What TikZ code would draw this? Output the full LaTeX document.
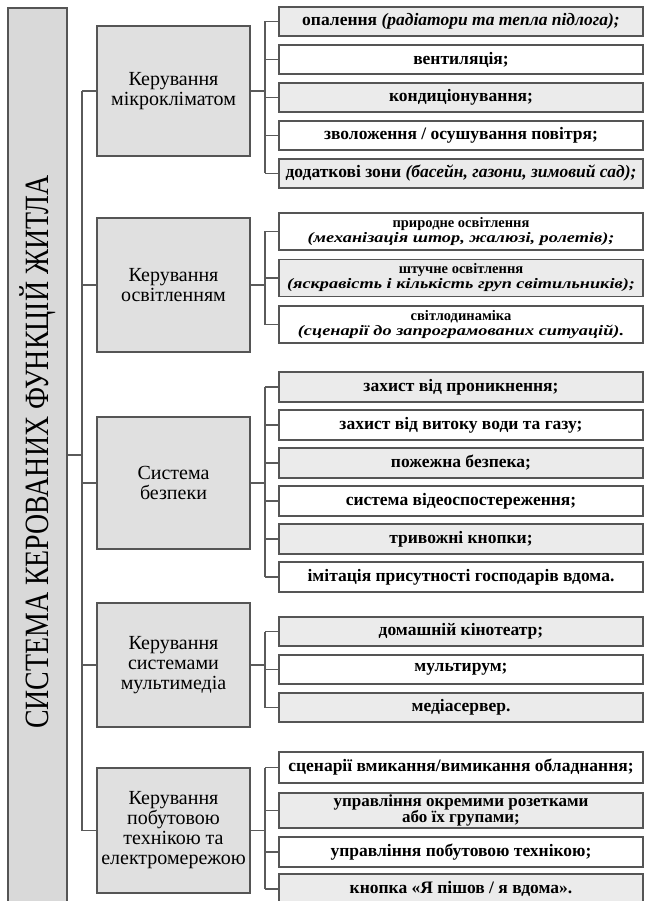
\documentclass[tikz,border=0pt]{standalone}
\usepackage{fontspec}
\setmainfont{Liberation Serif}
\definecolor{bordc}{HTML}{555555}
\definecolor{linec}{HTML}{5A5A5A}
\definecolor{catc}{HTML}{E0E0E0}
\definecolor{mainc}{HTML}{D9D9D9}
\definecolor{itg}{HTML}{EBEBEB}
\newcommand{\itw}[1]{\scalebox{1.26}[1]{\itshape #1}}
\tikzset{
  bx/.style={draw=bordc, line width=1.4pt},
  cat/.style={bx, fill=catc, minimum width=153pt, align=center, inner sep=0pt,
    font=\fontsize{20}{20}\selectfont},
  itm/.style={bx, minimum width=364pt, align=center, inner sep=0pt,
    font=\bfseries\fontsize{17.5}{17}\selectfont},
  itm2/.style={itm, font=\bfseries\fontsize{14.5}{15}\selectfont},
  gr/.style={fill=itg},
  wh/.style={fill=white},
  ln/.style={draw=linec, line width=1.3pt}
}
\begin{document}
\begin{tikzpicture}[x=1pt,y=-1pt]
\clip (0,0) rectangle (645,901);
\fill[white] (0,0) rectangle (645,901);
% main box
\node[bx, fill=mainc, minimum width=59pt, minimum height=900pt, inner sep=0pt] (main) at (37.5,458) {};
\node[rotate=90, inner sep=0pt] (maintxt) at (37.5,452) {\scalebox{0.82}[1]{\fontsize{34}{34}\selectfont СИСТЕМА КЕРОВАНИХ ФУНКЦІЙ ЖИТЛА}};
% categories
\node[cat, minimum height=130pt] (c1) at (173.5,91) {Керування\\мікрокліматом};
\node[cat, minimum height=134pt] (c2) at (173.5,285) {Керування\\освітленням};
\node[cat, minimum height=132pt] (c3) at (173.5,483) {Система\\безпеки};
\node[cat, minimum height=124pt] (c4) at (173.5,665) {Керування\\системами\\мультимедіа};
\node[cat, minimum height=125pt] (c5) at (173.5,830.5) {Керування\\побутовою\\технікою та\\електромережою};
% group 1
\node[itm, gr, minimum height=29pt] (a1) at (461,21.5) {опалення \textit{(радіатори та тепла підлога);}};
\node[itm, wh, minimum height=29pt] (a2) at (461,59.5) {вентиляція;};
\node[itm, gr, minimum height=29pt] (a3) at (461,97.5) {кондиціонування;};
\node[itm, wh, minimum height=29pt] (a4) at (461,135.5) {зволоження / осушування повітря;};
\node[itm, gr, minimum height=29pt] (a5) at (461,173.5) {додаткові зони \textit{(басейн, газони, зимовий сад);}};
% group 2
\node[itm2, wh, minimum height=37pt] (b1) at (461,231.5) {природне освітлення\\\itw{(механізація штор, жалюзі, ролетів);}};
\node[itm2, gr, minimum height=37pt] (b2) at (461,278) {штучне освітлення\\\itw{(яскравість і кількість груп світильників);}};
\node[itm2, wh, minimum height=37pt] (b3) at (461,324.5) {світлодинаміка\\\itw{(сценарії до запрограмованих ситуацій).}};
% group 3
\node[itm, gr, minimum height=30pt] (s1) at (461,387) {захист від проникнення;};
\node[itm, wh, minimum height=30pt] (s2) at (461,425) {захист від витоку води та газу;};
\node[itm, gr, minimum height=30pt] (s3) at (461,463) {пожежна безпека;};
\node[itm, wh, minimum height=30pt] (s4) at (461,501) {система відеоспостереження;};
\node[itm, gr, minimum height=30pt] (s5) at (461,539) {тривожні кнопки;};
\node[itm, wh, minimum height=30pt] (s6) at (461,577) {імітація присутності господарів вдома.};
% group 4
\node[itm, gr, minimum height=29pt] (m1) at (461,631.5) {домашній кінотеатр;};
\node[itm, wh, minimum height=29pt] (m2) at (461,669.5) {мультирум;};
\node[itm, gr, minimum height=29pt] (m3) at (461,707.5) {медіасервер.};
% group 5
\node[itm, wh, minimum height=31pt] (e1) at (461,767.5) {сценарії вмикання/вимикання обладнання;};
\node[itm, gr, minimum height=35pt, font=\bfseries\fontsize{17}{15.5}\selectfont] (e2) at (461,810.5) {управління окремими розетками\\або їх групами;};
\node[itm, wh, minimum height=30pt] (e3) at (461,852) {управління побутовою технікою;};
\node[itm, gr, minimum height=30pt] (e4) at (461,889) {кнопка «Я пішов / я вдома».};
% main connectors
\coordinate (tr) at (82,91);
\coordinate (br) at (82,830.5);
\draw[ln] (tr) -- (br);
\draw[ln] (main.east |- 0,455) -- (82,455);
\foreach \c in {c1,c2,c3,c4,c5} \draw[ln] (82,0 |- \c.west) -- (\c.west);
% sub connectors
\foreach \first/\last/\c/\list in {a1/a5/c1/{a1,a2,a3,a4,a5}, b1/b3/c2/{b1,b2,b3}, s1/s6/c3/{s1,s2,s3,s4,s5,s6}, m1/m3/c4/{m1,m2,m3}, e1/e4/c5/{e1,e2,e3,e4}}{
  \draw[ln] (265,0 |- \first.west) -- (265,0 |- \last.west);
  \draw[ln] (\c.east) -- (265,0 |- \c.east);
  \foreach \i in \list \draw[ln] (265,0 |- \i.west) -- (\i.west);
}
\end{tikzpicture}
\end{document}
